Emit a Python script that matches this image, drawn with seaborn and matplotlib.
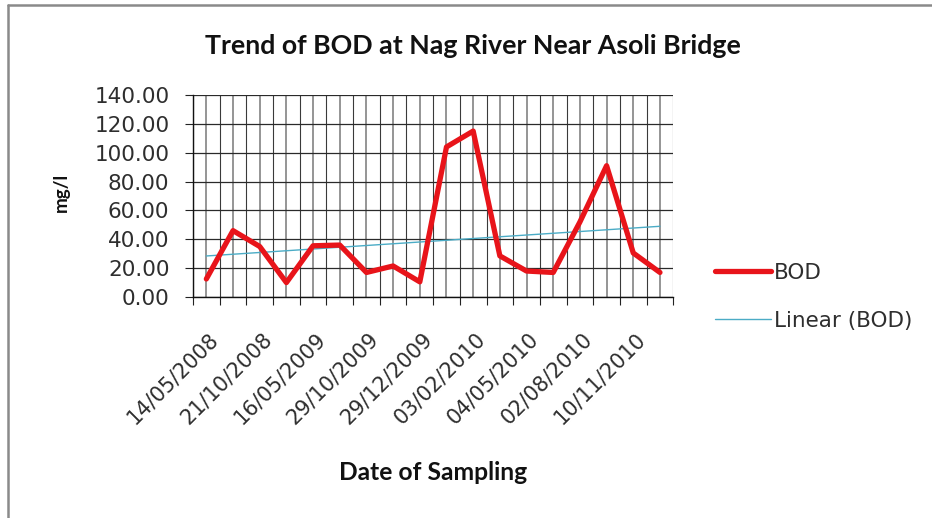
import numpy as np
import pandas as pd
import matplotlib
matplotlib.use("Agg")
import matplotlib.pyplot as plt
import matplotlib.transforms as mtransforms
from matplotlib.lines import Line2D
import seaborn as sns

# ---- data ----
date_labels = ["14/05/2008", "21/10/2008", "16/05/2009", "29/10/2009",
               "29/12/2009", "03/02/2010", "04/05/2010", "02/08/2010",
               "10/11/2010"]
bod_values = [12.5, 46, 35, 10, 35.5, 36, 17, 21.5, 10.5,
              104, 115, 28.5, 18, 17, 52, 91, 30.5, 17]
y_ticks = [0, 20, 40, 60, 80, 100, 120, 140]
title_text = "Trend of BOD at Nag River Near Asoli Bridge"
x_title = "Date of Sampling"
y_title = "mg/l"

sns.set_theme(style="white")
plt.rcParams["font.family"] = ["DejaVu Sans"]

W, H = 932, 518
fig = plt.figure(figsize=(W / 100, H / 100), dpi=100)
fig.patch.set_facecolor("white")

x0, x1, y0, y1 = 193, 673.3, 95, 297
ax = fig.add_axes([x0 / W, 1 - y1 / H, (x1 - x0) / W, (y1 - y0) / H])
ax.set_facecolor("white")

n = len(bod_values)
df = pd.DataFrame({"idx": np.arange(n), "BOD": bod_values})

sns.regplot(data=df, x="idx", y="BOD", ax=ax, scatter=False, ci=None,
            truncate=True, label="Linear (BOD)",
            line_kws=dict(color="#4bacc6", lw=1.0, zorder=3))
sns.lineplot(data=df, x="idx", y="BOD", ax=ax, color="#e8141a", lw=3.8,
             label="BOD", zorder=4)

ax.set_xlim(-0.5, n - 0.5)
ax.set_ylim(0, 140)

labels = []
for i in range(n):
    labels.append(date_labels[i // 2] if i % 2 == 0 and i // 2 < len(date_labels) else "")
ax.set_xticks(np.arange(n))
ax.set_xticklabels(labels)
ax.set_xticks(np.arange(-0.5, n, 1.0), minor=True)
ax.set_yticks(y_ticks)
ax.set_yticklabels([f"{v:.2f}" for v in y_ticks])

ax.set_axisbelow(True)
ax.grid(which="major", axis="x", color="#8c8c8c", lw=1.3)
ax.grid(which="minor", axis="x", color="#3a3a3a", lw=0.8)
ax.grid(which="major", axis="y", color="#2a2a2a", lw=0.9)

ax.tick_params(axis="x", which="major", length=0, pad=23,
               labelsize=15, labelcolor="#2e2e2e")
ax.tick_params(axis="x", which="minor", length=6, width=0.8,
               direction="out", color="#222222", bottom=True)
ax.tick_params(axis="y", which="major", length=6, width=0.8,
               direction="out", color="#222222", left=True, pad=11,
               labelsize=15.5, labelcolor="#2e2e2e")

offset = mtransforms.ScaledTranslation(2 / 100, 0, fig.dpi_scale_trans)
for lab in ax.get_xticklabels():
    lab.set_rotation(45)
    lab.set_ha("right")
    lab.set_va("top")
    lab.set_rotation_mode("anchor")
    lab.set_transform(lab.get_transform() + offset)

for side in ["top", "right"]:
    ax.spines[side].set_visible(False)
for side in ["left", "bottom"]:
    ax.spines[side].set_visible(True)
    ax.spines[side].set_color("#111111")
    ax.spines[side].set_linewidth(1.0)

ax.set_xlabel("")
ax.set_ylabel("")

# legend
handles, labs = ax.get_legend_handles_labels()
if ax.get_legend() is not None:
    ax.get_legend().remove()
hmap = dict(zip(labs, handles))
leg_labels = [l for l in ["BOD", "Linear (BOD)"] if l in hmap]
fig.legend([hmap[l] for l in leg_labels], leg_labels, loc="upper left",
           bbox_to_anchor=(715 / W, 1 - 263 / H),
           frameon=False, fontsize=15.5, handlelength=2.6,
           handletextpad=0.15, labelspacing=1.3, borderpad=0,
           borderaxespad=0, labelcolor="#2e2e2e")

# titles
fig.text(473 / W, 1 - 46 / H, title_text, ha="center", va="center",
         fontfamily="Lato", fontweight="bold", fontsize=19.3, color="#111111")
fig.text(433 / W, 1 - 473 / H, x_title, ha="center", va="center",
         fontfamily="Lato", fontweight="bold", fontsize=17.7, color="#111111")
fig.text(61.5 / W, 1 - 192 / H, y_title, ha="center", va="center",
         rotation=90, fontfamily="Lato", fontweight="bold", fontsize=13.5,
         color="#111111")

# chart-area border (left and top edges visible)
fig.add_artist(Line2D([8 / W, 8 / W], [0, 1 - 5 / H], transform=fig.transFigure,
                      color="#8a8a8a", lw=1.8))
fig.add_artist(Line2D([8 / W, 1], [1 - 5 / H, 1 - 5 / H], transform=fig.transFigure,
                      color="#8a8a8a", lw=1.8))

fig.savefig("out.png", dpi=100, facecolor="white")
